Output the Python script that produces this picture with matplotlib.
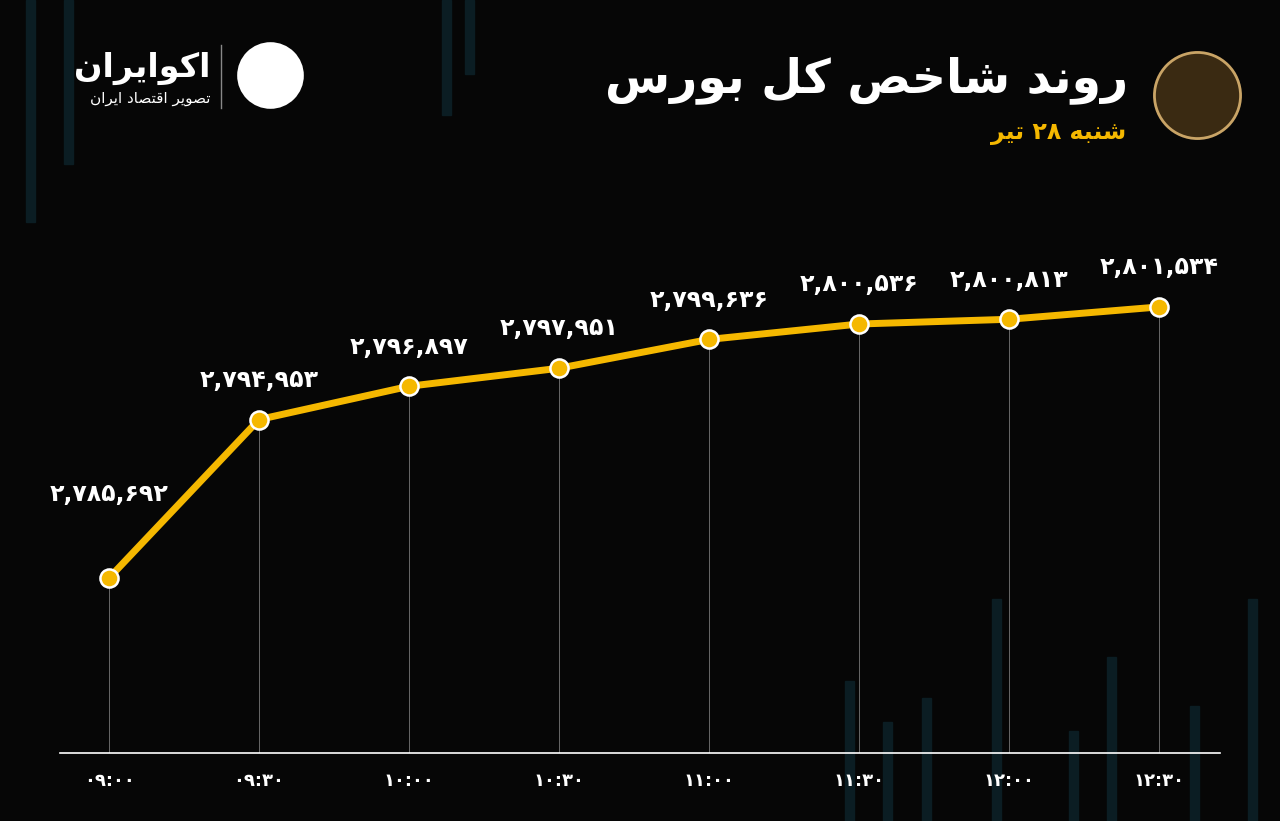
import matplotlib.pyplot as plt
from matplotlib.patches import Rectangle

# minimal Persian shaping (presentation forms), since matplotlib has no text shaping
FORMS = {
    'ا': (0xFE8D, 0xFE8E, None, None), 'د': (0xFEA9, 0xFEAA, None, None),
    'ر': (0xFEAD, 0xFEAE, None, None), 'و': (0xFEED, 0xFEEE, None, None),
    'ب': (0xFE8F, 0xFE90, 0xFE91, 0xFE92), 'ت': (0xFE95, 0xFE96, 0xFE97, 0xFE98),
    'خ': (0xFEA5, 0xFEA6, 0xFEA7, 0xFEA8), 'س': (0xFEB1, 0xFEB2, 0xFEB3, 0xFEB4),
    'ش': (0xFEB5, 0xFEB6, 0xFEB7, 0xFEB8), 'ص': (0xFEB9, 0xFEBA, 0xFEBB, 0xFEBC),
    'ق': (0xFED5, 0xFED6, 0xFED7, 0xFED8), 'ل': (0xFEDD, 0xFEDE, 0xFEDF, 0xFEE0),
    'ن': (0xFEE5, 0xFEE6, 0xFEE7, 0xFEE8), 'ه': (0xFEE9, 0xFEEA, 0xFEEB, 0xFEEC),
    'ک': (0xFB8E, 0xFB8F, 0xFB90, 0xFB91), 'ی': (0xFBFC, 0xFBFD, 0xFBFE, 0xFBFF),
}


def shape_word(w):
    out = []
    for i, c in enumerate(w):
        if c not in FORMS:
            out.append(c)
            continue
        f = FORMS[c]
        prev = w[i - 1] if i > 0 else None
        nxt = w[i + 1] if i + 1 < len(w) else None
        jp = prev in FORMS and FORMS[prev][2] is not None
        jn = nxt in FORMS and f[2] is not None
        if jp and jn:
            out.append(chr(f[3]))
        elif jp:
            out.append(chr(f[1]))
        elif jn:
            out.append(chr(f[2]))
        else:
            out.append(chr(f[0]))
    return ''.join(out)


def fa(text):
    words = []
    for w in text.split(' '):
        if any(c in FORMS for c in w):
            words.append(shape_word(w)[::-1])
        else:
            words.append(w)
    return ' '.join(words[::-1])


DIG = str.maketrans('0123456789', '۰۱۲۳۴۵۶۷۸۹')

times = ['09:00', '09:30', '10:00', '10:30', '11:00', '11:30', '12:00', '12:30']
values = [2785692, 2794953, 2796897, 2797951, 2799636, 2800536, 2800813, 2801534]
title = 'روند شاخص کل بورس'
subtitle = 'شنبه ۲۸ تیر'
brand = 'اکوایران'
brand_sub = 'تصویر اقتصاد ایران'

# faint background candles (figure fraction x, bottom, height)
bg_bars = [(0.020, 0.73, 0.27), (0.050, 0.80, 0.20), (0.345, 0.86, 0.14),
           (0.363, 0.91, 0.09), (0.660, 0.00, 0.17), (0.690, 0.00, 0.12),
           (0.720, 0.00, 0.15), (0.775, 0.00, 0.27), (0.835, 0.00, 0.11),
           (0.865, 0.00, 0.20), (0.930, 0.00, 0.14), (0.975, 0.00, 0.27)]

BG = '#060606'
GOLD = '#f5b800'

fig = plt.figure(figsize=(12.8, 8.21), dpi=100, facecolor=BG)
for x, b, h in bg_bars:
    fig.patches.append(Rectangle((x, b), 0.007, h, transform=fig.transFigure,
                                 color='#0b1d23', zorder=-5))

ax = fig.add_axes([60 / 1280, 68 / 821, 1160 / 1280, 503 / 821])
ax.set_facecolor('none')
xs = range(len(values))
ax.set_xlim(-0.327, 7.407)
ax.set_ylim(2775464, 2804862)

for x, v in zip(xs, values):
    ax.plot([x, x], [2775464, v], color='#777777', lw=0.6, zorder=1)
ax.plot(xs, values, color=GOLD, lw=5, zorder=2, solid_capstyle='round')
ax.scatter(xs, values, s=170, color=GOLD, edgecolor='white', linewidth=1.8, zorder=3)
for i, (x, v) in enumerate(zip(xs, values)):
    dy = 52 if i == 0 else 20
    ax.annotate(f'{v:,}'.translate(DIG), (x, v), xytext=(0, dy), textcoords='offset points',
                ha='center', va='bottom', color='white', fontsize=17, fontweight='bold',
                family='DejaVu Sans')

ax.set_xticks(list(xs))
ax.set_xticklabels([t.translate(DIG) for t in times], color='white', fontsize=13,
                   fontweight='bold')
ax.tick_params(axis='x', length=0, pad=14)
ax.set_yticks([])
for s in ['top', 'left', 'right']:
    ax.spines[s].set_visible(False)
ax.spines['bottom'].set_color('white')
ax.spines['bottom'].set_linewidth(1.2)

# header
fig.text(1128 / 1280, 1 - 80 / 821, fa(title), ha='right', va='center', color='white',
         fontsize=34, fontweight='bold')
fig.text(1126 / 1280, 1 - 133 / 821, fa(subtitle), ha='right', va='center', color=GOLD,
         fontsize=17, fontweight='bold')
fig.lines.append(plt.Line2D([1197 / 1280], [1 - 95 / 821], transform=fig.transFigure,
                            marker='o', markersize=62, markerfacecolor='#3a2a12',
                            markeredgecolor='#c9a466', markeredgewidth=2))
fig.text(210 / 1280, 1 - 68 / 821, fa(brand), ha='right', va='center', color='white',
         fontsize=24, fontweight='bold')
fig.text(210 / 1280, 1 - 98 / 821, fa(brand_sub), ha='right', va='center', color='white',
         fontsize=11)
fig.lines.append(plt.Line2D([221 / 1280, 221 / 1280], [1 - 45 / 821, 1 - 108 / 821],
                            transform=fig.transFigure, color='#888888', lw=1))
fig.lines.append(plt.Line2D([270 / 1280], [1 - 75 / 821], transform=fig.transFigure,
                            marker='o', markersize=48, markerfacecolor='white',
                            markeredgecolor='none'))

fig.savefig('out.png', dpi=100, facecolor=BG)
